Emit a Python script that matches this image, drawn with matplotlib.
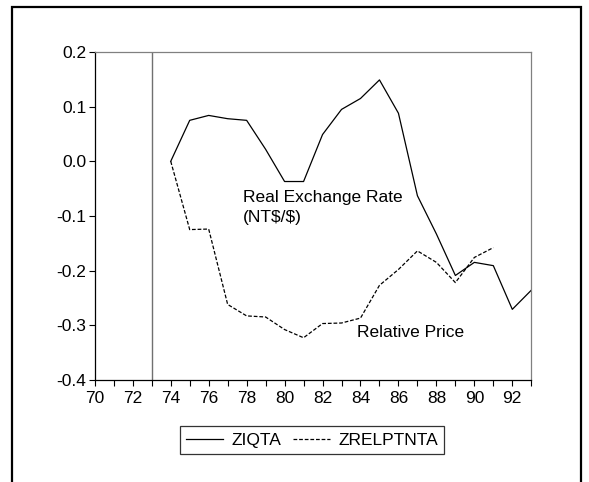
import matplotlib
matplotlib.use('Agg')
import matplotlib.pyplot as plt
from matplotlib.patches import Rectangle
from matplotlib.ticker import MultipleLocator, FuncFormatter

plt.rcParams['font.family'] = ['Liberation Sans', 'DejaVu Sans']
plt.rcParams['text.parse_math'] = False

# years (two-digit) and series
years_q = [74, 75, 76, 77, 78, 79, 80, 81, 82, 83, 84, 85, 86, 87, 88, 89, 90, 91, 92, 93]
ziqta = [0.0, 0.075, 0.084, 0.078, 0.075, 0.022, -0.037, -0.037, 0.049, 0.095,
         0.115, 0.149, 0.088, -0.063, -0.133, -0.209, -0.185, -0.191, -0.271, -0.236]

years_p = [74, 75, 76, 77, 78, 79, 80, 81, 82, 83, 84, 85, 86, 87, 88, 89, 90, 91]
zrelp = [0.0, -0.125, -0.124, -0.262, -0.283, -0.285, -0.308, -0.323, -0.297, -0.296,
         -0.287, -0.227, -0.198, -0.164, -0.185, -0.222, -0.176, -0.158]

fig = plt.figure(figsize=(5.89, 4.82), dpi=100)
ax = fig.add_axes([0.161, 0.212, 0.741, 0.680])

l1, = ax.plot(years_q, ziqta, color='black', lw=0.9, label='ZIQTA')
l2, = ax.plot(years_p, zrelp, color='black', lw=0.9, dashes=(3, 1.5), label='ZRELPTNTA')
ax.axvline(73, color='#707070', lw=1.0)

ax.set_xlim(70, 93)
ax.set_ylim(-0.4, 0.2)
ax.xaxis.set_major_locator(MultipleLocator(2))
ax.xaxis.set_minor_locator(MultipleLocator(1))
ax.yaxis.set_major_locator(MultipleLocator(0.1))
ax.yaxis.set_major_formatter(FuncFormatter(lambda v, p: '%.1f' % v if abs(v) > 1e-9 else '0.0'))
ax.tick_params(axis='both', which='both', direction='out', labelsize=12.5, width=0.8)
ax.tick_params(axis='both', which='major', length=4)
ax.tick_params(axis='x', which='minor', length=4)
ax.tick_params(axis='x', pad=4)
ax.tick_params(axis='y', pad=2)
for s in ['top', 'right']:
    ax.spines[s].set_color('#808080')
for s in ['left', 'bottom']:
    ax.spines[s].set_color('black')
for s in ax.spines.values():
    s.set_linewidth(0.9)

ax.text(77.8, -0.052, 'Real Exchange Rate\n(NT$/$)', fontsize=12.5, va='top', ha='left',
        linespacing=1.45)
ax.text(83.8, -0.314, 'Relative Price', fontsize=12.5, va='center', ha='left')

leg = fig.legend(handles=[l1, l2], loc='center', bbox_to_anchor=(0.530, 0.087), ncol=2,
                 fontsize=12.5, frameon=True, fancybox=False, handlelength=2.1,
                 columnspacing=0.7, handletextpad=0.5, borderpad=0.35)
leg.get_frame().set_edgecolor('black')
leg.get_frame().set_linewidth(0.9)

fig.patches.append(Rectangle((0.021, -0.05), 0.965, 1.035, transform=fig.transFigure,
                             fill=False, edgecolor='black', lw=1.6))

fig.savefig('out.png', dpi=100)
